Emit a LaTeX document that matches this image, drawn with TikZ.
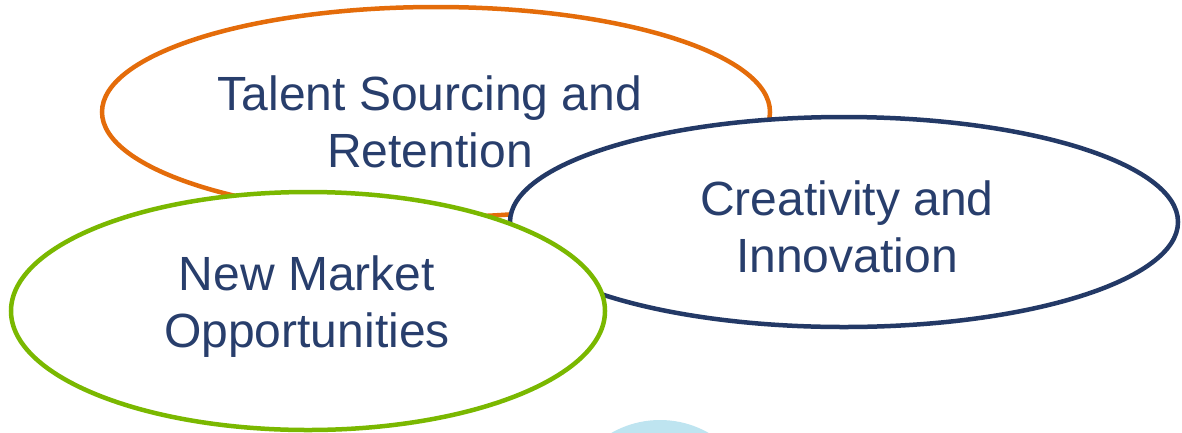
\documentclass[tikz,border=0pt]{standalone}
\usepackage{fontspec}
\setmainfont{Liberation Sans}
\usetikzlibrary{shapes.geometric}
\definecolor{borange}{RGB}{228,108,10}
\definecolor{bnavy}{RGB}{35,57,102}
\definecolor{bgreen}{RGB}{122,184,0}
\definecolor{blight}{RGB}{190,228,240}
\definecolor{tnavy}{RGB}{40,62,108}
\tikzset{
  oval/.style={ellipse, draw, fill=white, line width=4.5pt, inner sep=0pt, outer sep=0pt},
  label text/.style={font=\fontsize{48}{57}\selectfont, text=tnavy, align=center, anchor=base, inner sep=0pt}
}
\begin{document}
\begin{tikzpicture}[x=1pt,y=-1pt]
\useasboundingbox (0,0) rectangle (1182,432);
\clip (0,0) rectangle (1182,432);
\fill[blight] (660,518) circle[radius=98];
\node[oval, draw=borange, minimum width=668pt, minimum height=210pt] (talent) at (436,112) {};
\node[oval, draw=bnavy, minimum width=668pt, minimum height=210pt] (creat) at (844,222) {};
\node[oval, draw=bgreen, minimum width=594pt, minimum height=238pt] (market) at (308,311) {};
\node[label text] (ttalent) at (430,167) {Talent Sourcing and\\Retention};
\node[label text] (tcreat) at (847,272) {Creativity and\\Innovation};
\node[label text] (tmarket) at (307,347) {New Market\\Opportunities};
\end{tikzpicture}
\end{document}
